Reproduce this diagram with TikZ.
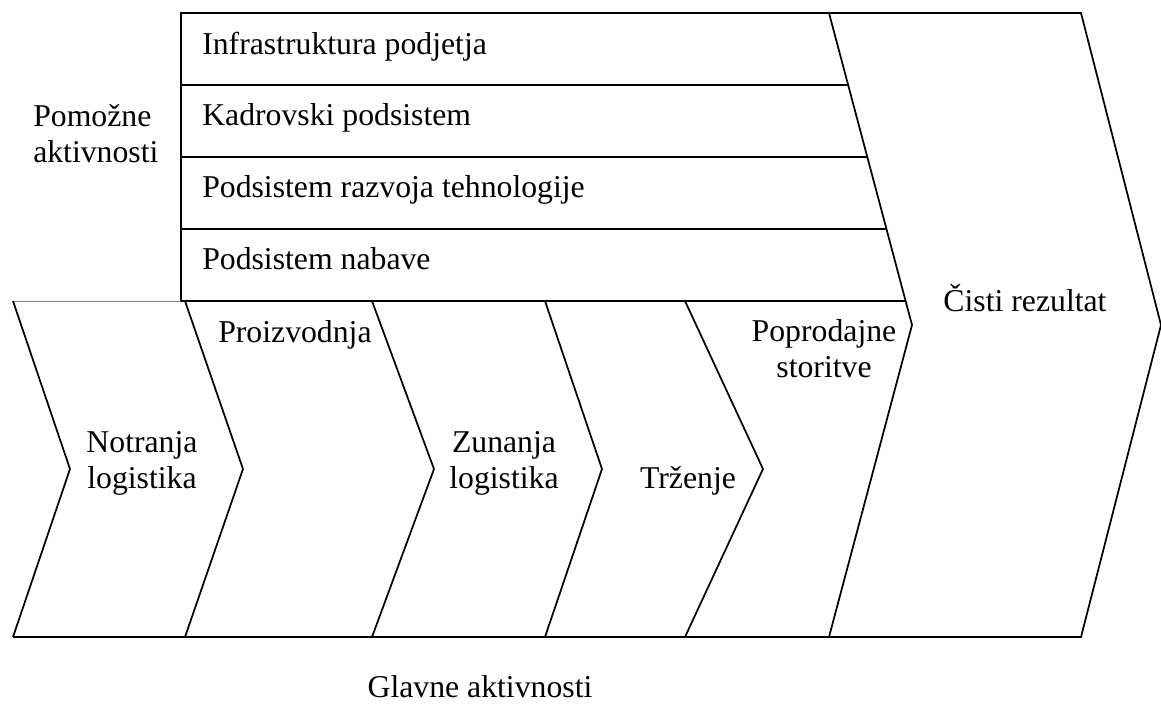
\documentclass[tikz,border=0pt]{standalone}
\usepackage{fontspec}
\setmainfont{Liberation Serif}
\begin{document}
\begin{tikzpicture}[x=0.75pt,y=-0.75pt,
  edge/.style={line width=1.3pt,line join=miter},
  thin edge/.style={line width=0.6pt,draw=gray},
  lbl/.style={inner sep=0pt,font=\fontsize{23.8}{27}\selectfont,align=center}]
\useasboundingbox (0,0) rectangle (1161,704);

% net result chevron on the right
\draw[edge] (829,13) -- (1081,13) -- (1161,325) -- (1081,637) -- (829,637) -- (912,325) -- cycle;

% support activities band
\draw[edge] (829,13) -- (181,13) -- (181,301) -- (905.6,301);
\draw[edge] (181,85) -- (848.2,85);
\draw[edge] (181,157) -- (867.3,157);
\draw[edge] (181,229) -- (886.5,229);

% primary activities row
\draw[thin edge] (13,301) -- (181,301);
\draw[edge] (13,637) -- (829,637);
\draw[edge] (13,301) -- (70,469) -- (13,637);
\draw[edge] (185,301) -- (243,469) -- (185,637);
\draw[edge] (372,301) -- (434,469) -- (372,637);
\draw[edge] (545,301) -- (602,469) -- (545,637);
\draw[edge] (685,301) -- (763,469) -- (685,637);

% support activity labels
\node[lbl,anchor=base west] (infra) at (202,54) {Infrastruktura podjetja};
\node[lbl,anchor=base west] (kadri) at (202,125) {Kadrovski podsistem};
\node[lbl,anchor=base west] (razvoj) at (202,197) {Podsistem razvoja tehnologije};
\node[lbl,anchor=base west] (nabava) at (202,269) {Podsistem nabave};
\node[lbl,anchor=base west,align=left] (pomozne) at (33,162) {Pomožne\\aktivnosti};

% primary activity labels (two-line labels anchored on their last baseline)
\node[lbl,anchor=base] (notranja) at (142,488) {Notranja\\logistika};
\node[lbl,anchor=base west] (proizvodnja) at (218,342) {Proizvodnja};
\node[lbl,anchor=base] (zunanja) at (504,488) {Zunanja\\logistika};
\node[lbl,anchor=base] (trzenje) at (688,488) {Trženje};
\node[lbl,anchor=base] (poprodajne) at (824,377) {Poprodajne\\storitve};
\node[lbl,anchor=base] (rezultat) at (1025,311) {Čisti rezultat};
\node[lbl,anchor=base] (glavne) at (480,697) {Glavne aktivnosti};
\end{tikzpicture}
\end{document}
